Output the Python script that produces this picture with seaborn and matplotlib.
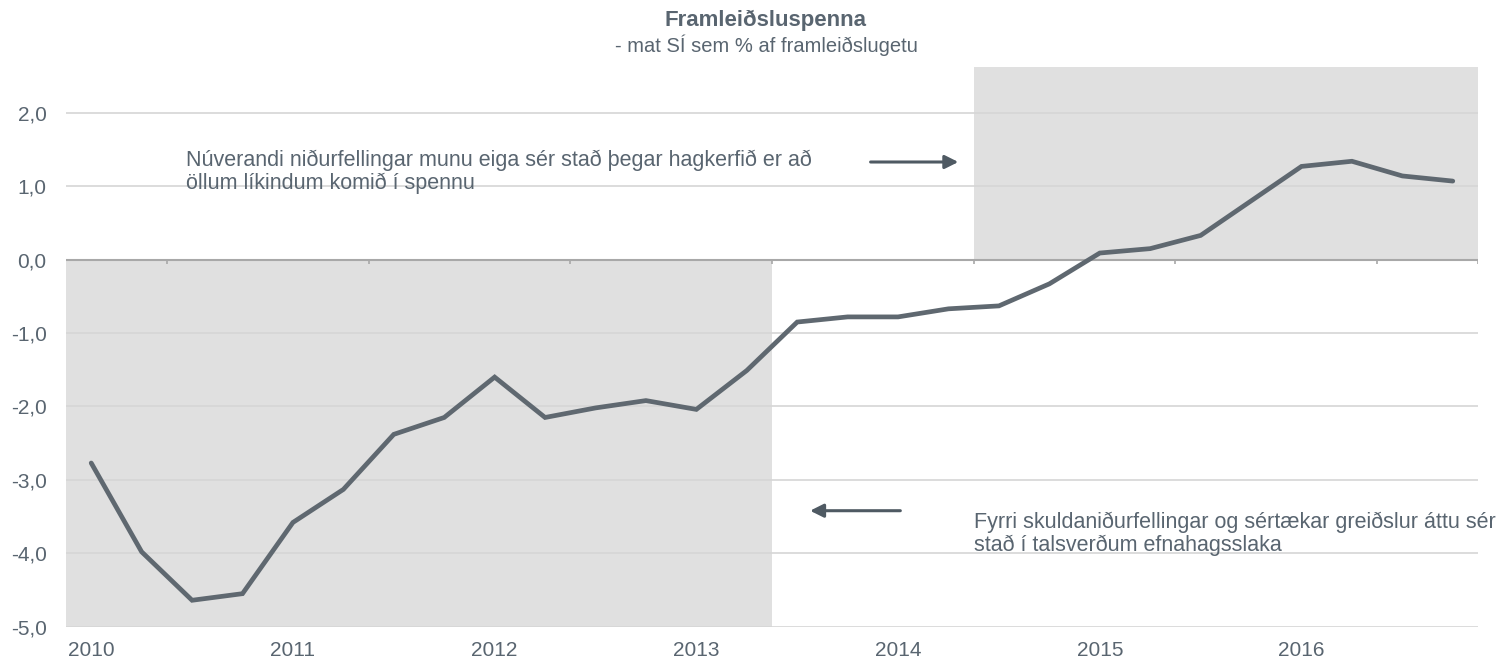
import numpy as np
import pandas as pd
import seaborn as sns
import matplotlib.pyplot as plt

# Output gap, quarterly 2010Q1 - 2016Q4 (% of potential output)
years = ["2010", "2011", "2012", "2013", "2014", "2015", "2016"]
quarters = [f"{y}Q{q}" for y in years for q in range(1, 5)]
gap = [-2.77, -3.98, -4.64, -4.55, -3.58, -3.13, -2.38, -2.15,
       -1.60, -2.15, -2.02, -1.92, -2.04, -1.51, -0.85, -0.78,
       -0.78, -0.67, -0.63, -0.33, 0.09, 0.15, 0.33, 0.80,
       1.27, 1.34, 1.14, 1.07]
yticks = [2.0, 1.0, 0.0, -1.0, -2.0, -3.0, -4.0, -5.0]

df = pd.DataFrame({"quarter": quarters, "gap": gap})
df["pos"] = np.arange(len(df))

line_col = "#5f6870"
text_col = "#596570"
shade_col = "#e0e0e0"
grid_col = "#d6d6d6"

sns.set_style("white")
plt.rcParams["font.family"] = ["Liberation Sans", "DejaVu Sans"]

fig = plt.figure(figsize=(15.06, 6.62), dpi=100)
ax = fig.add_axes([66 / 1506, 1 - 626.7 / 662, 1412 / 1506, (626.7 - 67.3) / 662])

ymin, ymax = -5.0, 2.62
n = len(df)

# shaded periods (earlier write-downs / current write-downs)
ax.add_patch(plt.Rectangle((-0.5, ymin), 14, -ymin, color=shade_col, zorder=0.2, lw=0))
ax.add_patch(plt.Rectangle((17.5, 0), n - 0.5 - 17.5, ymax, color=shade_col, zorder=0.2, lw=0))

sns.lineplot(data=df, x="pos", y="gap", color=line_col, linewidth=3.4, ax=ax,
             zorder=3, solid_capstyle="round", solid_joinstyle="miter")

ax.set_xlim(-0.5, n - 0.5)
ax.set_ylim(ymin, ymax)
ax.set_yticks(yticks)
ax.set_yticklabels([f"{v:.1f}".replace(".", ",") for v in yticks])
ax.set_xticks(df["pos"][::4])
ax.set_xticklabels(years)
ax.tick_params(axis="both", length=0, labelsize=15, colors=text_col)
ax.tick_params(axis="y", pad=14)
ax.tick_params(axis="x", pad=10)
ax.set_xlabel("")
ax.set_ylabel("")
ax.set_axisbelow(True)
ax.yaxis.grid(True, color=grid_col, linewidth=1.2)
ax.xaxis.grid(False)
for s in ax.spines.values():
    s.set_visible(False)

# zero axis line with year-boundary ticks
ax.axhline(0, color="#a8a8a8", linewidth=1.5, zorder=1)
bounds = list(np.arange(1.5, n, 4)) + [n - 0.5]
ax.vlines(bounds, -0.06, 0, color="#a8a8a8", linewidth=1.2, zorder=1)

ax.text(1.88, 1.50, "Núverandi niðurfellingar munu eiga sér stað þegar hagkerfið er að\n"
        "öllum líkindum komið í spennu", fontsize=15.5, color=text_col,
        va="top", ha="left", linespacing=1.1)
ax.annotate("", xy=(17.25, 1.33), xytext=(15.4, 1.33),
            arrowprops=dict(arrowstyle="-|>", color="#4f5a63", lw=2.2, mutation_scale=20))

ax.text(17.5, -3.43, "Fyrri skuldaniðurfellingar og sértækar greiðslur áttu sér\n"
        "stað í talsverðum efnahagsslaka", fontsize=15.5, color=text_col,
        va="top", ha="left", linespacing=1.1)
ax.annotate("", xy=(14.2, -3.42), xytext=(16.1, -3.42),
            arrowprops=dict(arrowstyle="-|>", color="#4f5a63", lw=2.2, mutation_scale=20))

fig.text(766 / 1506, 1 - 20 / 662, "Framleiðsluspenna", ha="center", va="center",
         fontsize=16, fontweight="bold", color=text_col)
fig.text(766 / 1506, 1 - 45 / 662, "- mat SÍ sem % af framleiðslugetu", ha="center",
         va="center", fontsize=14.5, color=text_col)

fig.savefig("out.png", dpi=100)
